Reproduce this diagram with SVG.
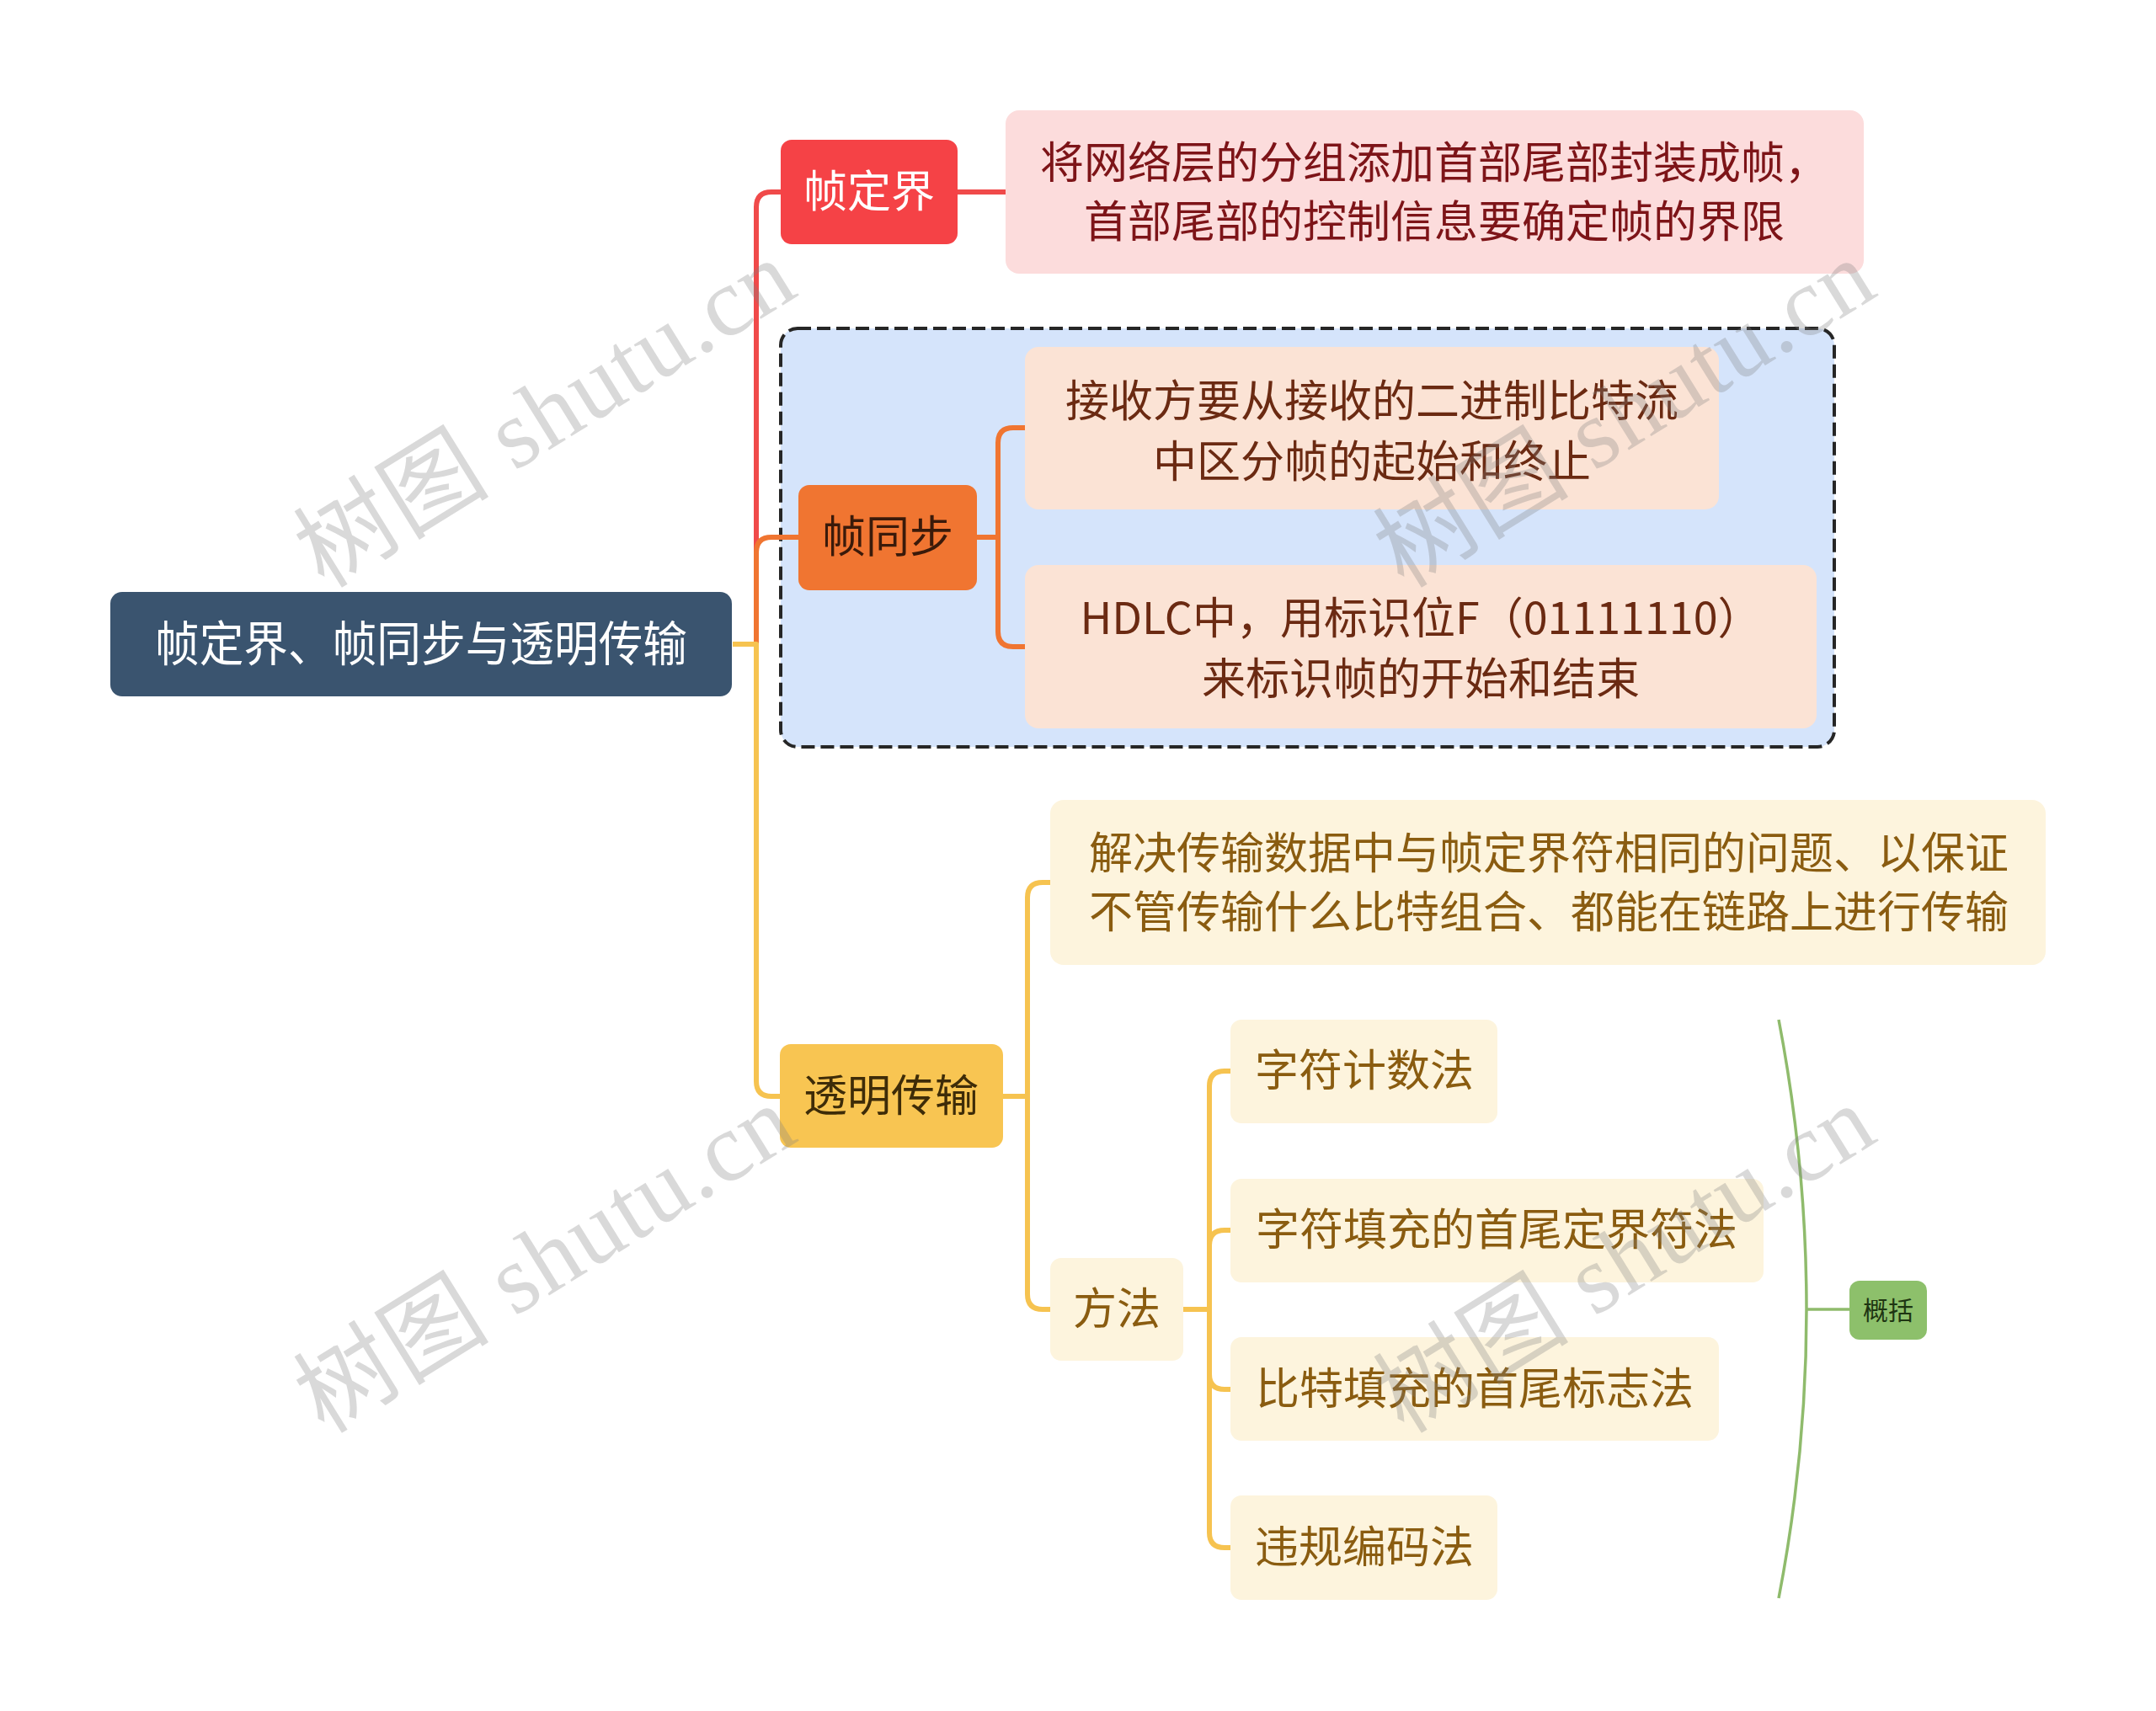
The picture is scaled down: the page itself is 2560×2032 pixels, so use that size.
<svg xmlns="http://www.w3.org/2000/svg" width="2560" height="2032" viewBox="0 0 2560 2032">
<style>
text{font-family:"Noto Sans CJK SC","Noto Sans",sans-serif;text-anchor:middle}
.c{fill:none;stroke-linecap:butt;stroke-linejoin:round}
.red{stroke:#f04a4a;stroke-width:6}
.org{stroke:#f07531;stroke-width:6}
.yel{stroke:#f6c350;stroke-width:6}
.grn{stroke:#8fbb6c;stroke-width:3.5}
.t52{font-size:52px}
.wm{font-family:"Liberation Serif","Noto Sans CJK SC",serif;font-size:116px;fill:#808080;fill-opacity:0.3;text-anchor:start}
</style>
<rect width="2560" height="2032" fill="#ffffff"/>

<g id="frame-sync-boundary">
<rect x="927" y="390" width="1251" height="497" rx="20" fill="#d5e4fb" stroke="#262626" stroke-width="4" stroke-dasharray="16 7"/>
</g>

<g id="connectors">
<path class="c red" d="M870 765 H898 V246 Q898 228 916 228 H928"/>
<path class="c red" d="M1137 228 H1195"/>
<path class="c org" d="M870 765 H898 V656 Q898 638 916 638 H949"/>
<path class="c yel" d="M870 765 H898 V1284 Q898 1302 916 1302 H927"/>
<path class="c org" d="M1160 638 H1185 V526 Q1185 508 1203 508 H1218"/>
<path class="c org" d="M1185 638 V750 Q1185 768 1203 768 H1218"/>
<path class="c yel" d="M1191 1302 H1220 V1066 Q1220 1048 1238 1048 H1248"/>
<path class="c yel" d="M1220 1302 V1537 Q1220 1555 1238 1555 H1248"/>
<path class="c yel" d="M1405 1555 H1436 V1290 Q1436 1272 1454 1272 H1462"/>
<path class="c yel" d="M1436 1555 V1479 Q1436 1461 1454 1461 H1462"/>
<path class="c yel" d="M1436 1555 V1632 Q1436 1650 1454 1650 H1462"/>
<path class="c yel" d="M1436 1555 V1820 Q1436 1838 1454 1838 H1462"/>
<path class="c grn" d="M2112 1211 Q2178 1555 2112 1898"/>
<path class="c grn" d="M2145 1555 H2196"/>
</g>

<g id="root">
<rect x="131" y="703" width="738" height="124" rx="14" fill="#3a546f"/>
<text x="500" y="785" font-size="57" fill="#ffffff" textLength="632" lengthAdjust="spacingAndGlyphs">帧定界、帧同步与透明传输</text>
</g>

<g id="frame-delimit">
<rect x="927" y="166" width="210" height="124" rx="13" fill="#f54246"/>
<text class="t52" x="1032" y="246" fill="#ffffff">帧定界</text>
</g>
<g id="frame-delimit-desc">
<rect x="1194" y="131" width="1019" height="194" rx="16" fill="#fcdcdc"/>
<text class="t52" x="1703" y="212" fill="#7d1418">将网络层的分组添加首部尾部封装成帧，</text>
<text class="t52" x="1703" y="282" fill="#7d1418">首部尾部的控制信息要确定帧的界限</text>
</g>

<g id="frame-sync">
<rect x="948" y="576" width="212" height="125" rx="13" fill="#f07531"/>
<text class="t52" x="1054" y="656" fill="#3a1a0a">帧同步</text>
</g>
<g id="frame-sync-1">
<rect x="1217" y="412" width="824" height="193" rx="16" fill="#fbe3d5"/>
<text class="t52" x="1629" y="495" fill="#6b2a12">接收方要从接收的二进制比特流</text>
<text class="t52" x="1629" y="567" fill="#6b2a12">中区分帧的起始和终止</text>
</g>
<g id="frame-sync-2">
<rect x="1217" y="671" width="940" height="194" rx="16" fill="#fbe3d5"/>
<text class="t52" x="1687" y="753" fill="#6b2a12">HDLC中，用标识位F（01111110）</text>
<text class="t52" x="1687" y="825" fill="#6b2a12">来标识帧的开始和结束</text>
</g>

<g id="transparent">
<rect x="926" y="1240" width="265" height="123" rx="13" fill="#f8c552"/>
<text class="t52" x="1058" y="1320" fill="#3e2c08">透明传输</text>
</g>
<g id="transparent-desc">
<rect x="1247" y="950" width="1182" height="196" rx="16" fill="#fdf4dd"/>
<text class="t52" x="1839" y="1032" fill="#8a5c10">解决传输数据中与帧定界符相同的问题、以保证</text>
<text class="t52" x="1839" y="1102" fill="#8a5c10">不管传输什么比特组合、都能在链路上进行传输</text>
</g>
<g id="method">
<rect x="1247" y="1494" width="158" height="122" rx="13" fill="#fdf4dd"/>
<text class="t52" x="1326" y="1573" fill="#8a5c10">方法</text>
</g>
<g id="m1">
<rect x="1461" y="1211" width="317" height="123" rx="13" fill="#fdf4dd"/>
<text class="t52" x="1620" y="1290" fill="#8a5c10">字符计数法</text>
</g>
<g id="m2">
<rect x="1461" y="1400" width="633" height="123" rx="13" fill="#fdf4dd"/>
<text class="t52" x="1777" y="1479" fill="#8a5c10">字符填充的首尾定界符法</text>
</g>
<g id="m3">
<rect x="1461" y="1588" width="580" height="123" rx="13" fill="#fdf4dd"/>
<text class="t52" x="1751" y="1668" fill="#8a5c10">比特填充的首尾标志法</text>
</g>
<g id="m4">
<rect x="1461" y="1776" width="317" height="124" rx="13" fill="#fdf4dd"/>
<text class="t52" x="1620" y="1856" fill="#8a5c10">违规编码法</text>
</g>
<g id="summary">
<rect x="2196" y="1521" width="92" height="70" rx="12" fill="#8dc06b"/>
<text x="2242" y="1567" font-size="30" fill="#1e3512">概括</text>
</g>

<g id="watermarks">
<text class="wm" transform="translate(385 700) rotate(-31.8)" textLength="665" lengthAdjust="spacing">树图 shutu.cn</text>
<text class="wm" transform="translate(1667 700) rotate(-31.8)" textLength="665" lengthAdjust="spacing">树图 shutu.cn</text>
<text class="wm" transform="translate(385 1704) rotate(-31.8)" textLength="665" lengthAdjust="spacing">树图 shutu.cn</text>
<text class="wm" transform="translate(1667 1704) rotate(-31.8)" textLength="665" lengthAdjust="spacing">树图 shutu.cn</text>
</g>
</svg>
